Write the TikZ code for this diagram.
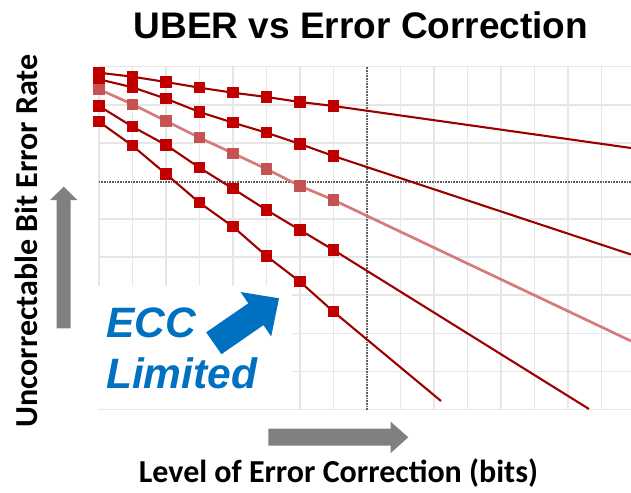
\documentclass[tikz,border=0pt]{standalone}
\usepackage{fontspec}
\setmainfont{Liberation Sans}
\newfontfamily\labelfont{Carlito}

\definecolor{gridlight}{RGB}{230,230,230}
\definecolor{griddark}{RGB}{95,95,95}
\definecolor{serieline}{RGB}{158,0,0}
\definecolor{seriemark}{RGB}{192,0,0}
\definecolor{paleline}{RGB}{214,122,122}
\definecolor{palemark}{RGB}{198,82,82}
\definecolor{eccblue}{RGB}{0,112,192}
\definecolor{arrowgray}{RGB}{128,128,128}

\tikzset{
  gridline/.style={gridlight, line width=1.6pt},
  axisline/.style={griddark, line width=2pt, dash pattern=on 1pt off 0.6pt},
  curve/.style={serieline, line width=2.1pt, line join=round},
  palecurve/.style={paleline, line width=2.7pt, line join=round},
  datamark/.style={rectangle, fill=seriemark, draw=none, minimum size=11.5pt, inner sep=0pt},
  palemarker/.style={datamark, fill=palemark},
  grayarrow/.style={fill=arrowgray, draw=none},
}

\begin{document}
\begin{tikzpicture}[x=1pt, y=-1pt]
\useasboundingbox (0,0) rectangle (631,492);

% light grid
\foreach \i in {0,...,7,9,10,...,15}
  \draw[gridline] ({99+33.5*\i},66.7) -- ({99+33.5*\i},409.5);
\foreach \j in {0,1,2,4,5,...,9}
  \draw[gridline] (99,{66.7+38.09*\j}) -- (631,{66.7+38.09*\j});

% blank panel behind the annotation
\fill[white] (95,286) rectangle (292,408.6);
\draw[gridline] (99,409.5) -- (631,409.5);

% reference axes
\draw[axisline] (367,66.7) -- (367,409.5);
\draw[axisline] (99,181.5) -- (631,181.5);

% data points
\foreach \y [count=\i] in {72.7,76.7,82,87.7,92.7,97,102,106}
  \coordinate (a\i) at ({99+33.5*(\i-1)},\y);
\foreach \y [count=\i] in {79.3,87.3,98.7,112,122.7,132.7,144,156}
  \coordinate (b\i) at ({99+33.5*(\i-1)},\y);
\foreach \y [count=\i] in {89.3,104.3,121,137.7,153.3,169,186,200}
  \coordinate (c\i) at ({99+33.5*(\i-1)},\y);
\foreach \y [count=\i] in {106,126.7,145,167.7,188.7,210,230,250}
  \coordinate (d\i) at ({99+33.5*(\i-1)},\y);
\foreach \y [count=\i] in {121.7,145.7,174,202.7,226.7,256,281.7,311.7}
  \coordinate (e\i) at ({99+33.5*(\i-1)},\y);
\coordinate (aend) at (631,148);
\coordinate (bend) at (631,254.5);
\coordinate (cend) at (631,341);
\coordinate (dend) at (589,409);
\coordinate (eend) at (441,401);

% trend lines
\draw[curve] (a1) \foreach \i in {2,...,8} {-- (a\i)} -- (aend);
\draw[curve] (b1) \foreach \i in {2,...,8} {-- (b\i)} -- (bend);
\draw[palecurve] (c1) \foreach \i in {2,...,8} {-- (c\i)} -- (cend);
\draw[curve] (d1) \foreach \i in {2,...,8} {-- (d\i)} -- (dend);
\draw[curve] (e1) \foreach \i in {2,...,8} {-- (e\i)} -- (eend);

% markers
\foreach \i in {1,...,8} {
  \node[datamark] (ma\i) at (a\i) {};
  \node[datamark] (mb\i) at (b\i) {};
  \node[palemarker] (mc\i) at (c\i) {};
  \node[datamark] (md\i) at (d\i) {};
  \node[datamark] (me\i) at (e\i) {};
}

% axis direction arrows
\fill[grayarrow] (56.7,328.3) -- (56.7,200) -- (50,200) -- (63.7,186.7)
  -- (77.3,200) -- (70.7,200) -- (70.7,328.3) -- cycle;
\fill[grayarrow] (268.3,428.5) -- (390.7,428.5) -- (390.7,421.7) -- (408.3,437.3)
  -- (390.7,453) -- (390.7,445.5) -- (268.3,445.5) -- cycle;

% annotation arrow
\fill[eccblue] (206.2,332.3) -- (248.3,303.3) -- (240.6,292.0) -- (279,298.3)
  -- (271.2,336.4) -- (263.5,325.1) -- (221.4,354.2) -- cycle;

% texts
\node[anchor=base, inner sep=0pt, font=\bfseries\fontsize{37}{40}\selectfont]
  (title) at (361,38.3) {UBER vs Error Correction};
\node[rotate=90, inner sep=0pt, font=\labelfont\bfseries\fontsize{32}{36}\selectfont]
  (ylab) at (26,241) {Uncorrectable Bit Error Rate};
\node[anchor=base, inner sep=0pt, font=\labelfont\bfseries\fontsize{32}{36}\selectfont]
  (xlab) at (338.5,482) {Level of Error Correction (bits)};
\node[anchor=base west, inner sep=0pt, text=eccblue,
  font=\bfseries\itshape\fontsize{42.5}{51}\selectfont]
  (ecc) at (106,337.3) {ECC};
\node[anchor=base west, inner sep=0pt, text=eccblue,
  font=\bfseries\itshape\fontsize{42.5}{51}\selectfont]
  (lim) at (106,388.3) {Limited};
\end{tikzpicture}
\end{document}
